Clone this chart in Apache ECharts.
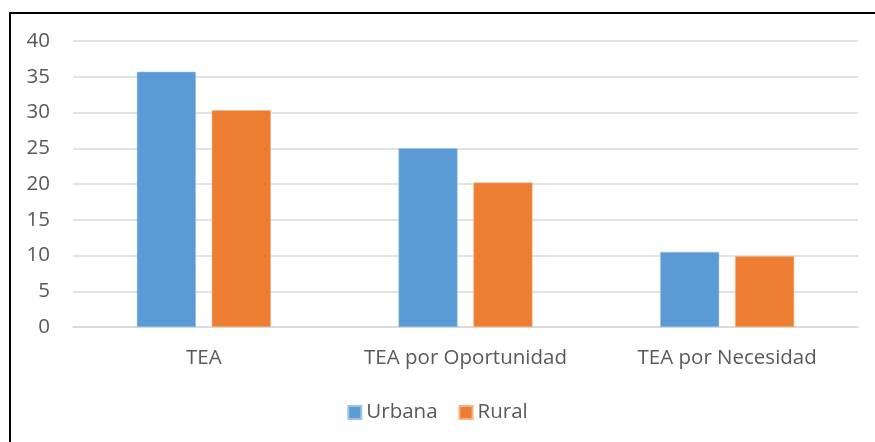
<!DOCTYPE html>
<html>
<head>
<meta charset="utf-8">
<script src="https://cdn.jsdelivr.net/npm/echarts@6/dist/echarts.min.js"></script>
<style>
  html, body { margin:0; padding:0; background:#fff; }
  #frame { position:absolute; left:9px; top:12px; width:900px; height:460px; border-left:2px solid #000; border-top:2px solid #000; }
  #chart { position:absolute; left:0; top:0; width:875px; height:442px; }
</style>
</head>
<body>
<div id="frame"></div>
<div id="chart"></div>
<script>
  var categories = ['TEA', 'TEA por Oportunidad', 'TEA por Necesidad'];
  var urbana = [35.7, 25.0, 10.5];
  var rural = [30.3, 20.2, 9.9];
  var yTicks = [0, 5, 10, 15, 20, 25, 30, 35, 40];

  var chart = echarts.init(document.getElementById('chart'));
  chart.setOption({
    animation: false,
    backgroundColor: 'transparent',
    textStyle: { fontFamily: 'Open Sans' },
    grid: { left: 73, right: 17, top: 41, bottom: 115 },
    legend: {
      bottom: 14,
      left: 'center',
      icon: 'rect',
      itemWidth: 13,
      itemHeight: 13,
      itemGap: 21,
      textStyle: { color: '#595959', fontSize: 20.5, fontFamily: 'Open Sans' },
      data: ['Urbana', 'Rural']
    },
    xAxis: {
      type: 'category',
      data: categories,
      axisTick: { show: false },
      axisLine: { lineStyle: { color: '#d9d9d9', width: 1.5 } },
      axisLabel: { color: '#595959', fontSize: 20.5, margin: 21, interval: 0, hideOverlap: false }
    },
    yAxis: {
      type: 'value',
      min: yTicks[0],
      max: yTicks[yTicks.length - 1],
      interval: 5,
      axisLine: { show: false },
      axisTick: { show: false },
      axisLabel: { color: '#595959', fontSize: 20.5, margin: 23 },
      splitLine: { lineStyle: { color: '#d9d9d9', width: 1.5 } }
    },
    series: [
      {
        name: 'Urbana', type: 'bar', data: urbana,
        barWidth: 59, barGap: '27%',
        itemStyle: { color: '#5b9bd5', borderColor: '#9dc3e6', borderWidth: 0.5 }
      },
      {
        name: 'Rural', type: 'bar', data: rural,
        barWidth: 59,
        itemStyle: { color: '#ed7d31', borderColor: '#f4b183', borderWidth: 0.5 }
      }
    ]
  });
</script>
</body>
</html>
